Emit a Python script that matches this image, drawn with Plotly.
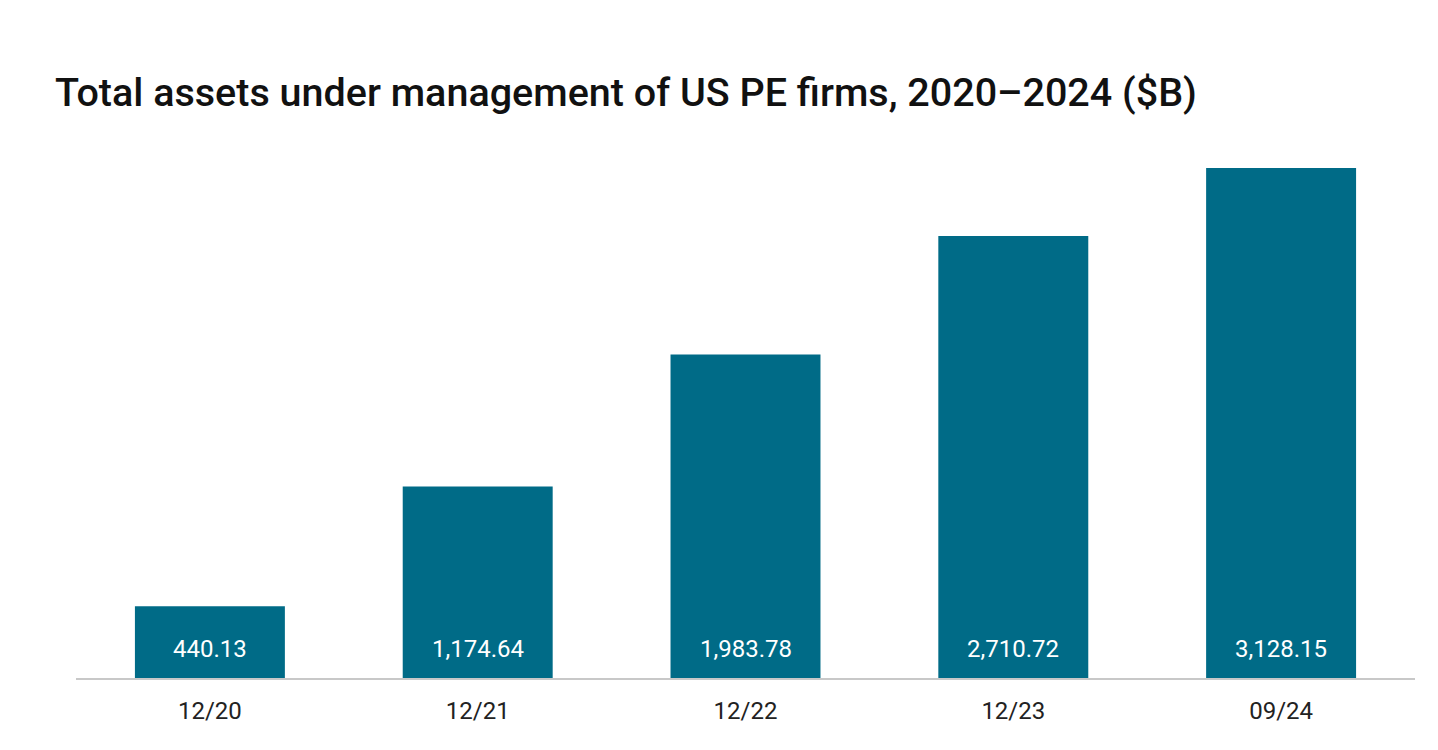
import plotly.graph_objects as go

categories = ["12/20", "12/21", "12/22", "12/23", "09/24"]
aum_values = [440.13, 1174.64, 1983.78, 2710.72, 3128.15]
value_labels = ["440.13", "1,174.64", "1,983.78", "2,710.72", "3,128.15"]

title_text = "Total assets under management of US PE firms, 2020\u20132024 ($B)"
bar_color = "#006B87"

fig = go.Figure()
fig.add_trace(go.Bar(
    x=categories,
    y=aum_values,
    marker=dict(color=bar_color, line=dict(width=0)),
    hoverinfo="skip",
))

for cat, val, lab in zip(categories, aum_values, value_labels):
    fig.add_annotation(
        x=cat, y=0, text=lab, showarrow=False,
        yanchor="bottom", yshift=13,
        font=dict(family="Roboto", size=24, color="white"),
    )

fig.update_layout(
    width=1438, height=750,
    paper_bgcolor="white", plot_bgcolor="white",
    margin=dict(l=68, r=31, t=132, b=80),
    bargap=0.44,
    showlegend=False,
    title=dict(
        text=title_text,
        x=47 / 1438, xref="container", xanchor="left",
        y=1 - 84 / 750, yref="container", yanchor="middle",
        font=dict(family="Roboto", size=39.5, color="#111111", weight=500),
    ),
    xaxis=dict(
        showline=True, linecolor="#c8c8c8", linewidth=2,
        ticks="", showgrid=False,
        tickfont=dict(family="Roboto", size=24, color="#222222"),
        ticklabelstandoff=10,
    ),
    yaxis=dict(
        range=[0, 3300], visible=False, showgrid=False, zeroline=False,
    ),
)

fig.write_html("out.html")
